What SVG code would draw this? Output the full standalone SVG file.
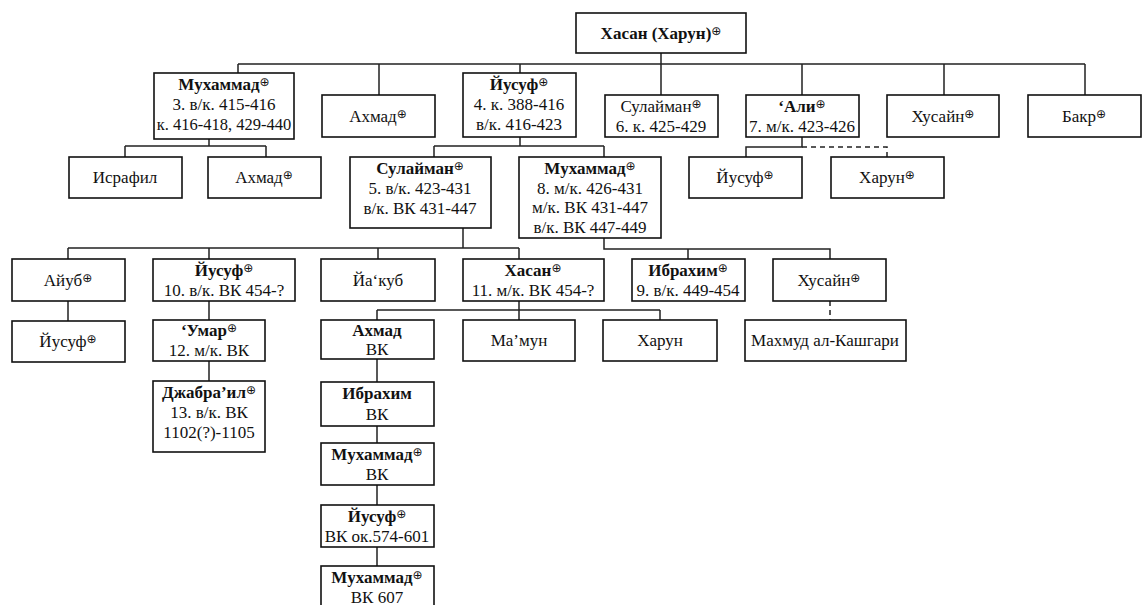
<svg xmlns="http://www.w3.org/2000/svg" width="1142" height="605" viewBox="0 0 1142 605">
<style>
.box{fill:#fff;stroke:#111;stroke-width:1.6}
.t{font-family:"Liberation Serif","Times New Roman",serif;font-size:17px;text-anchor:middle;fill:#111}
.b{font-weight:bold}
.s{font-family:"DejaVu Sans",sans-serif;font-size:12px;font-weight:normal}
.c{stroke:#222;stroke-width:1.5;fill:none}
.d{stroke-dasharray:5 4}
</style>
<rect width="1142" height="605" fill="#fff"/>
<g id="connectors">
<path class="c" d="M661 53V95M238 64H1085M238 64V73M379 64V95M520 64V73M802 64V95M944 64V95M1085 64V95"/>
<path class="c" d="M209 139V146M125 146H266M125 146V157M266 146V157"/>
<path class="c" d="M520 137V146M434 146H604M434 146V157M604 146V157"/>
<path class="c" d="M802 137V147H746V157"/>
<path class="c d" d="M802 147H887V157"/>
<path class="c" d="M463 228V248M68 248H519M68 248V259M209 248V259M378 248V259M519 248V259"/>
<path class="c" d="M604 238V249H830V259M688 249V259"/>
<path class="c" d="M68 301V321M209 301V320M209 361V381"/>
<path class="c" d="M519 301V310M377 310H660M377 310V320M519 310V320M660 310V320"/>
<path class="c d" d="M830 301V320"/>
<path class="c" d="M377 359V382M377 426V443M377 485V505M377 547V566"/>
</g>
<g id="n-root"><rect class="box" x="576" y="13" width="170" height="40"/><text class="t b" x="661" y="39">Хасан (Харун)<tspan class="s" dy="-4">⊕</tspan></text></g>
<g id="n-muhammad3"><rect class="box" x="154" y="73" width="140" height="66"/><text class="t b" x="224" y="90">Мухаммад<tspan class="s" dy="-4">⊕</tspan></text><text class="t" x="224" y="110">3. в/к. 415-416</text><text class="t" x="224" y="130" style="font-size:16.5px">к. 416-418, 429-440</text></g>
<g id="n-ahmad1"><rect class="box" x="322" y="95" width="113" height="42"/><text class="t" x="378" y="122">Ахмад<tspan class="s" dy="-4">⊕</tspan></text></g>
<g id="n-yusuf4"><rect class="box" x="463" y="73" width="113" height="64"/><text class="t b" x="519" y="90">Йусуф<tspan class="s" dy="-4">⊕</tspan></text><text class="t" x="519" y="110">4. к. 388-416</text><text class="t" x="519" y="130">в/к. 416-423</text></g>
<g id="n-sulaiman6"><rect class="box" x="605" y="95" width="113" height="42"/><text class="t" x="661" y="112">Сулайман<tspan class="s" dy="-4">⊕</tspan></text><text class="t" x="661" y="132">6. к. 425-429</text></g>
<g id="n-ali"><rect class="box" x="746" y="95" width="113" height="42"/><text class="t b" x="802" y="112">‘Али<tspan class="s" dy="-4">⊕</tspan></text><text class="t" x="802" y="132">7. м/к. 423-426</text></g>
<g id="n-husain1"><rect class="box" x="887" y="95" width="112" height="42"/><text class="t" x="943" y="122">Хусайн<tspan class="s" dy="-4">⊕</tspan></text></g>
<g id="n-bakr"><rect class="box" x="1028" y="95" width="113" height="42"/><text class="t" x="1084" y="122">Бакр<tspan class="s" dy="-4">⊕</tspan></text></g>
<g id="n-israfil"><rect class="box" x="69" y="157" width="113" height="41"/><text class="t" x="125" y="183">Исрафил</text></g>
<g id="n-ahmad2"><rect class="box" x="208" y="157" width="113" height="41"/><text class="t" x="264" y="183">Ахмад<tspan class="s" dy="-4">⊕</tspan></text></g>
<g id="n-sulaiman5"><rect class="box" x="350" y="157" width="141" height="71"/><text class="t b" x="420" y="174">Сулайман<tspan class="s" dy="-4">⊕</tspan></text><text class="t" x="420" y="194">5. в/к. 423-431</text><text class="t" x="420" y="214">в/к. ВК 431-447</text></g>
<g id="n-muhammad8"><rect class="box" x="519" y="157" width="142" height="81"/><text class="t b" x="590" y="174">Мухаммад<tspan class="s" dy="-4">⊕</tspan></text><text class="t" x="590" y="194">8. м/к. 426-431</text><text class="t" x="590" y="213">м/к. ВК 431-447</text><text class="t" x="590" y="233">в/к. ВК 447-449</text></g>
<g id="n-yusuf-ali"><rect class="box" x="689" y="157" width="113" height="41"/><text class="t" x="745" y="183">Йусуф<tspan class="s" dy="-4">⊕</tspan></text></g>
<g id="n-harun-ali"><rect class="box" x="831" y="157" width="113" height="41"/><text class="t" x="887" y="183">Харун<tspan class="s" dy="-4">⊕</tspan></text></g>
<g id="n-ayub"><rect class="box" x="12" y="259" width="113" height="42"/><text class="t" x="68" y="286">Айуб<tspan class="s" dy="-4">⊕</tspan></text></g>
<g id="n-yusuf10"><rect class="box" x="153" y="259" width="142" height="42"/><text class="t b" x="224" y="276">Йусуф<tspan class="s" dy="-4">⊕</tspan></text><text class="t" x="224" y="296">10. в/к. ВК 454-?</text></g>
<g id="n-yaqub"><rect class="box" x="321" y="259" width="114" height="42"/><text class="t" x="378" y="286">Йа‘куб</text></g>
<g id="n-hasan11"><rect class="box" x="463" y="259" width="141" height="42"/><text class="t b" x="533" y="276">Хасан<tspan class="s" dy="-4">⊕</tspan></text><text class="t" x="533" y="296">11. м/к. ВК 454-?</text></g>
<g id="n-ibrahim9"><rect class="box" x="632" y="259" width="113" height="42"/><text class="t b" x="688" y="276">Ибрахим<tspan class="s" dy="-4">⊕</tspan></text><text class="t" x="688" y="296">9. в/к. 449-454</text></g>
<g id="n-husain3"><rect class="box" x="773" y="259" width="113" height="42"/><text class="t" x="829" y="286">Хусайн<tspan class="s" dy="-4">⊕</tspan></text></g>
<g id="n-yusuf-ayub"><rect class="box" x="12" y="321" width="113" height="41"/><text class="t" x="68" y="347">Йусуф<tspan class="s" dy="-4">⊕</tspan></text></g>
<g id="n-umar"><rect class="box" x="153" y="320" width="112" height="41"/><text class="t b" x="209" y="336">‘Умар<tspan class="s" dy="-4">⊕</tspan></text><text class="t" x="209" y="356">12. м/к. ВК</text></g>
<g id="n-jabrail"><rect class="box" x="153" y="381" width="112" height="71"/><text class="t b" x="209" y="398">Джабра’ил<tspan class="s" dy="-4">⊕</tspan></text><text class="t" x="209" y="418">13. в/к. ВК</text><text class="t" x="209" y="438">1102(?)-1105</text></g>
<g id="n-ahmad-vk"><rect class="box" x="321" y="320" width="113" height="39"/><text class="t b" x="377" y="336">Ахмад</text><text class="t" x="377" y="355">ВК</text></g>
<g id="n-mamun"><rect class="box" x="463" y="320" width="112" height="41"/><text class="t" x="519" y="346">Ма’мун</text></g>
<g id="n-harun"><rect class="box" x="603" y="320" width="114" height="41"/><text class="t" x="660" y="346">Харун</text></g>
<g id="n-mahmud"><rect class="box" x="745" y="320" width="161" height="41"/><text class="t" x="825" y="346">Махмуд ал-Кашгари</text></g>
<g id="n-ibrahim-vk"><rect class="box" x="321" y="382" width="113" height="44"/><text class="t b" x="377" y="399">Ибрахим</text><text class="t" x="377" y="420">ВК</text></g>
<g id="n-muhammad-vk"><rect class="box" x="321" y="443" width="113" height="42"/><text class="t b" x="377" y="460">Мухаммад<tspan class="s" dy="-4">⊕</tspan></text><text class="t" x="377" y="480">ВК</text></g>
<g id="n-yusuf-vk"><rect class="box" x="321" y="505" width="113" height="42"/><text class="t b" x="377" y="522">Йусуф<tspan class="s" dy="-4">⊕</tspan></text><text class="t" x="377" y="542">ВК ок.574-601</text></g>
<g id="n-muhammad607"><rect class="box" x="321" y="566" width="113" height="44"/><text class="t b" x="377" y="583">Мухаммад<tspan class="s" dy="-4">⊕</tspan></text><text class="t" x="377" y="603">ВК 607</text></g>
</svg>
